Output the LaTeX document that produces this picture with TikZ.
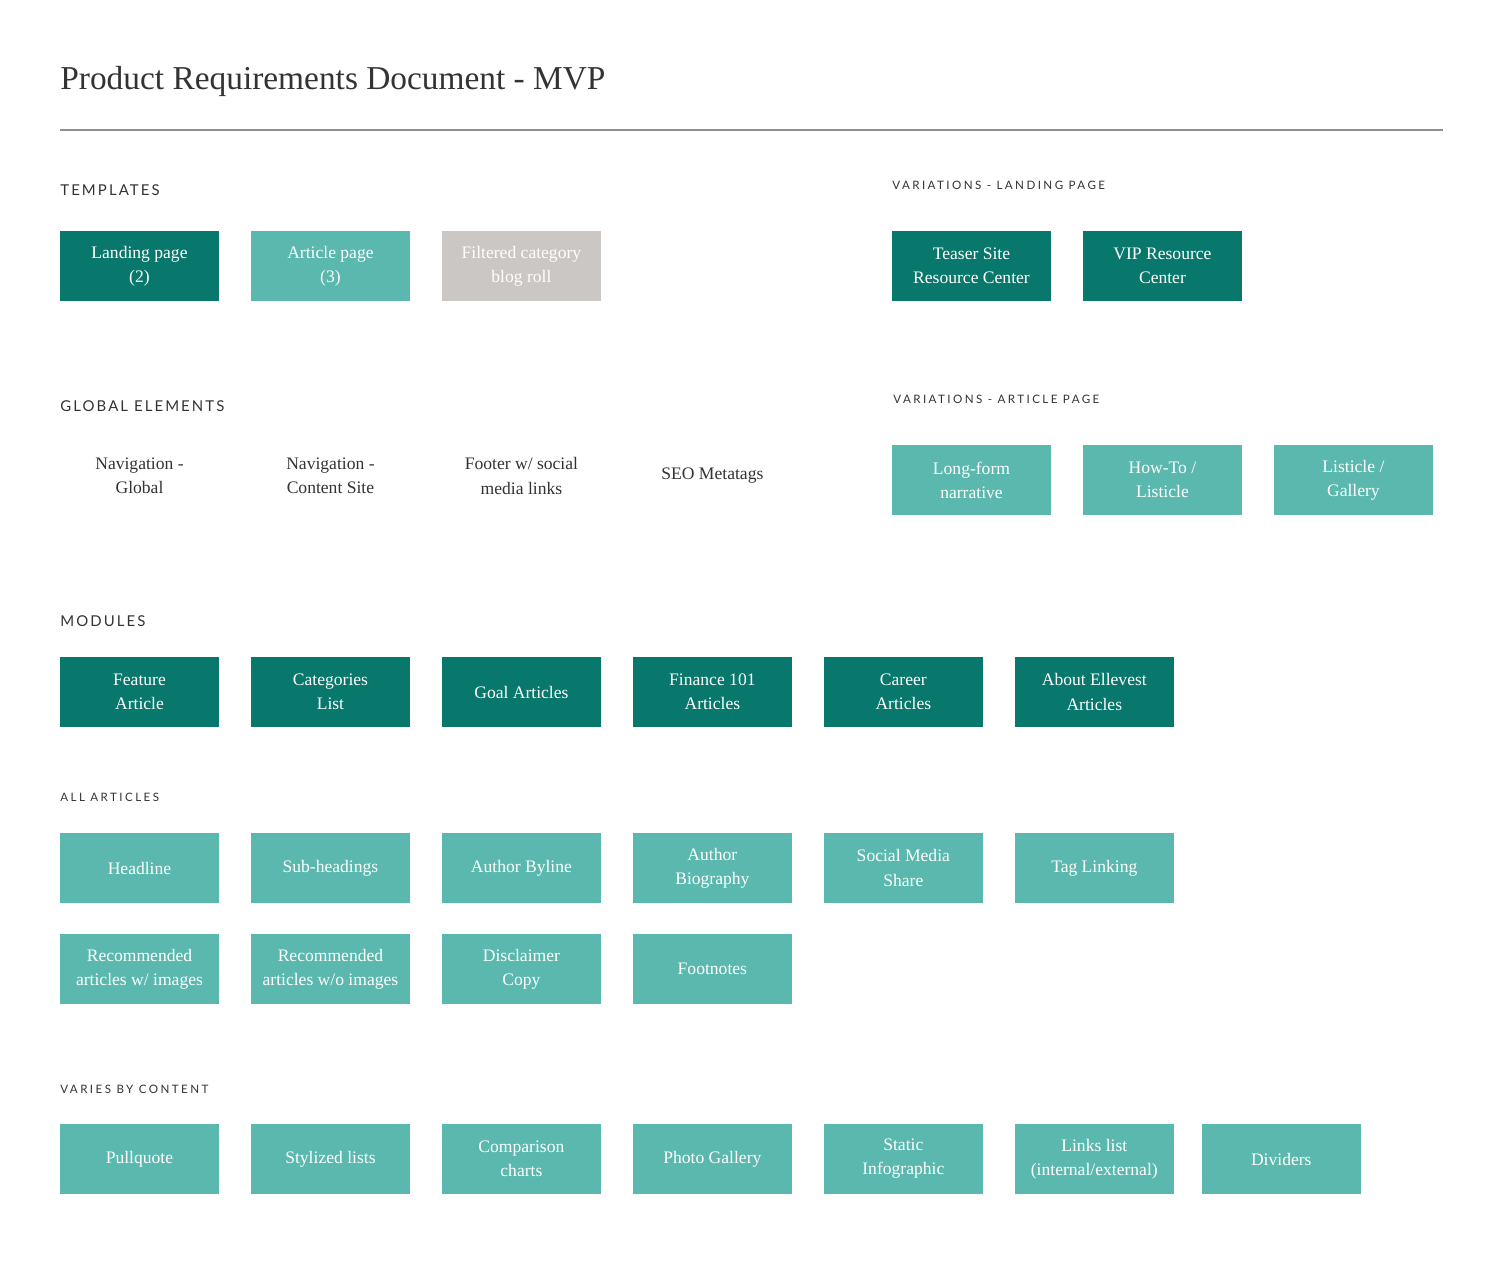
\documentclass[tikz,border=0pt]{standalone}
\usepackage{fontspec}
\setmainfont{Liberation Serif}
\newfontfamily\headfont[LetterSpace=14]{Lato}
\newfontfamily\subheadfont[LetterSpace=21]{Lato}
\usepackage{xcolor}
\usetikzlibrary{positioning}
\definecolor{tealdark}{HTML}{08776C}
\definecolor{teallight}{HTML}{5AB8AF}
\definecolor{greybox}{HTML}{CBC7C4}
\definecolor{ink}{HTML}{333333}
\definecolor{rulegrey}{HTML}{8F8F8F}

\begin{document}
\begin{tikzpicture}
                    [
                    x=0.02cm, y=-0.02cm,
                    node distance=0.64cm,
                    card/.style={shape = rectangle, minimum width = 3.18cm, minimum height = 1.4cm, inner sep=0pt, outer sep=0pt, align = center, text=white, font=\fontsize{10}{13.7}\selectfont},
                    dark/.style={card, fill=tealdark},
                    light/.style={card, fill=teallight},
                    grey/.style={card, fill=greybox},
                    plain/.style={card, text=ink},
                    sect/.style={anchor=base west, inner sep=0pt, text=ink, font=\headfont\fontsize{8.5}{10}\selectfont},
                    subsect/.style={anchor=base west, inner sep=0pt, text=ink, font=\subheadfont\fontsize{6.6}{8}\selectfont},
                    ]
                    \fill[white] (0,0) rectangle (1503,1280);
                    \useasboundingbox (0,0) rectangle (1503,1280);
                    % title
                    \node[anchor=base west, inner sep=0pt, text=ink, font=\fontsize{19}{22}\selectfont] (title) at (60,90) {Product Requirements Document - MVP};
                    \coordinate (ruleL) at (60,130);
                    \coordinate (ruleR) at (1443,130);
                    \draw[rulegrey, line width=1.1pt] (ruleL) -- (ruleR);
                    % templates
                    \node[sect] (templates) at (60,196) {TEMPLATES};
                    \node[dark, anchor=north west] (landing) at (60,231) {Landing page\\(2)};
                    \node[light, right=of landing] (article) {Article page\\(3)};
                    \node[grey, right=of article] (filtered) {Filtered category\\blog roll};
                    \node[subsect] (varland) at (892,189.5) {VARIATIONS - LANDING PAGE};
                    \node[dark, anchor=north west] (teaser) at (892,231) {Teaser Site\\Resource Center};
                    \node[dark, right=of teaser] (vip) {VIP Resource\\Center};
                    % global elements
                    \node[sect] (global) at (60,411) {GLOBAL ELEMENTS};
                    \node[plain, anchor=north west] (navglobal) at (60,441) {Navigation -\\Global};
                    \node[plain, right=of navglobal] (navcontent) {Navigation -\\Content Site};
                    \node[plain, right=of navcontent] (footer) {Footer w/ social\\media links};
                    \node[plain, right=of footer] (seo) {SEO Metatags};
                    \node[subsect] (varart) at (893,403.5) {VARIATIONS - ARTICLE PAGE};
                    \node[light, anchor=north west] (longform) at (892,445) {Long-form\\narrative};
                    \node[light, right=of longform] (howto) {How-To /\\Listicle};
                    \node[light, right=of howto] (listicle) {Listicle /\\Gallery};
                    % modules
                    \node[sect] (modules) at (60,626) {MODULES};
                    \node[dark, anchor=north west] (feature) at (60,657) {Feature\\Article};
                    \node[dark, right=of feature] (categories) {Categories\\List};
                    \node[dark, right=of categories] (goal) {Goal Articles};
                    \node[dark, right=of goal] (finance) {Finance 101\\Articles};
                    \node[dark, right=of finance] (career) {Career\\Articles};
                    \node[dark, right=of career] (about) {About Ellevest\\Articles};
                    % all articles
                    \node[subsect] (allart) at (60,801.5) {ALL ARTICLES};
                    \node[light, anchor=north west] (headline) at (60,833) {Headline};
                    \node[light, right=of headline] (subhead) {Sub-headings};
                    \node[light, right=of subhead] (byline) {Author Byline};
                    \node[light, right=of byline] (bio) {Author\\Biography};
                    \node[light, right=of bio] (social) {Social Media\\Share};
                    \node[light, right=of social] (tags) {Tag Linking};
                    \node[light, below=0.62cm of headline] (recwith) {Recommended\\articles w/ images};
                    \node[light, right=of recwith] (recwithout) {Recommended\\articles w/o images};
                    \node[light, right=of recwithout] (disclaimer) {Disclaimer\\Copy};
                    \node[light, right=of disclaimer] (footnotes) {Footnotes};
                    % varies by content
                    \node[subsect] (varies) at (60,1093.5) {VARIES BY CONTENT};
                    \node[light, anchor=north west] (pullquote) at (60,1124) {Pullquote};
                    \node[light, right=of pullquote] (lists) {Stylized lists};
                    \node[light, right=of lists] (comparison) {Comparison\\charts};
                    \node[light, right=of comparison] (photo) {Photo Gallery};
                    \node[light, right=of photo] (infographic) {Static\\Infographic};
                    \node[light, right=of infographic] (links) {Links list\\(internal/external)};
                    \node[light, right=0.56cm of links] (dividers) {Dividers};
                \end{tikzpicture}
\end{document}
